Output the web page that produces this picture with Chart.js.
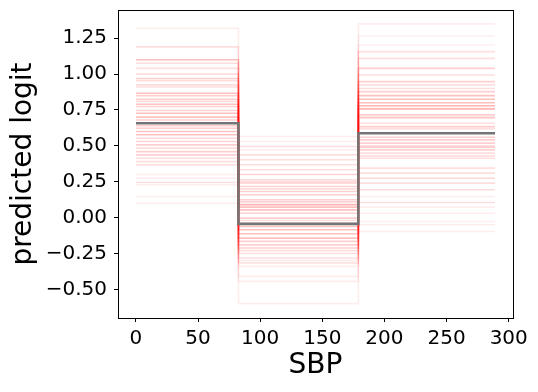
<!DOCTYPE html>
<html>
<head>
<meta charset="utf-8">
<script src="https://cdn.jsdelivr.net/npm/chart.js@4"></script>
<style>
  body { margin: 0; background: #fff; }
</style>
</head>
<body>
<canvas id="chart" width="538" height="392"></canvas>
<script>
// bin edges along SBP where the step function changes
const binEdges = [0, 82.5, 179, 289];

// main fit: one level per bin
const mainLevels = [0.658, -0.044, 0.588];

// bootstrap fits, level in each bin (same index = same sample)
const bin1Levels = [
    1.32, 1.19, 1.19, 1.10, 1.10, 1.10, 1.10, 1.076, 1.076, 1.04,
    1.04, 1.0, 1.0, 0.97, 0.97, 0.97, 0.955, 0.955, 0.925, 0.925,
    0.91, 0.91, 0.867, 0.867, 0.867, 0.867, 0.85, 0.85, 0.85, 0.825,
    0.825, 0.825, 0.81, 0.81, 0.79, 0.79, 0.79, 0.79, 0.774, 0.774,
    0.774, 0.746, 0.746, 0.746, 0.727, 0.727, 0.727, 0.727, 0.70, 0.70,
    0.70, 0.70, 0.68, 0.68, 0.68, 0.66, 0.66, 0.64, 0.64, 0.64,
    0.623, 0.623, 0.623, 0.60, 0.60, 0.60, 0.60, 0.577, 0.577, 0.577,
    0.577, 0.554, 0.554, 0.53, 0.53, 0.53, 0.507, 0.507, 0.507, 0.484,
    0.484, 0.46, 0.46, 0.46, 0.437, 0.437, 0.437, 0.414, 0.414, 0.39,
    0.39, 0.368, 0.368, 0.30, 0.275, 0.245, 0.245, 0.229, 0.147, 0.10];
const bin2Levels = [
    0.565, 0.53, 0.495, 0.495, 0.472, 0.437, 0.437, 0.403, 0.403, 0.368,
    0.368, 0.333, 0.333, 0.30, 0.30, 0.30, 0.263, 0.263, 0.25, 0.25,
    0.24, 0.24, 0.217, 0.217, 0.217, 0.20, 0.20, 0.182, 0.182, 0.182,
    0.159, 0.159, 0.159, 0.124, 0.124, 0.124, 0.11, 0.11, 0.11, 0.09,
    0.09, 0.09, 0.09, 0.09, 0.073, 0.073, 0.073, 0.073, 0.054, 0.054,
    0.054, 0.054, 0.03, 0.03, 0.03, -0.004, -0.004, -0.004, -0.02, -0.02,
    -0.04, -0.04, -0.062, -0.062, -0.062, -0.062, -0.085, -0.085, -0.085, -0.085,
    -0.113, -0.113, -0.113, -0.113, -0.143, -0.143, -0.143, -0.143, -0.166, -0.166,
    -0.166, -0.19, -0.19, -0.19, -0.212, -0.212, -0.212, -0.23, -0.23, -0.25,
    -0.25, -0.282, -0.282, -0.30, -0.317, -0.317, -0.34, -0.41, -0.445, -0.60];
const bin3Levels = [
    1.35, 1.266, 1.203, 1.157, 1.157, 1.11, 1.11, 1.04, 1.04, 1.04,
    0.994, 0.994, 0.948, 0.948, 0.948, 0.925, 0.925, 0.90, 0.90, 0.878,
    0.878, 0.878, 0.85, 0.85, 0.85, 0.85, 0.825, 0.825, 0.825, 0.825,
    0.80, 0.80, 0.80, 0.80, 0.78, 0.78, 0.78, 0.78, 0.78, 0.76,
    0.76, 0.76, 0.755, 0.755, 0.755, 0.716, 0.716, 0.716, 0.70, 0.70,
    0.693, 0.693, 0.658, 0.658, 0.634, 0.634, 0.634, 0.62, 0.62, 0.56,
    0.56, 0.56, 0.542, 0.542, 0.542, 0.519, 0.519, 0.519, 0.50, 0.50,
    0.49, 0.49, 0.49, 0.472, 0.472, 0.472, 0.449, 0.449, 0.43, 0.43,
    0.414, 0.414, 0.345, 0.345, 0.31, 0.31, 0.275, 0.275, 0.24, 0.24,
    0.194, 0.194, 0.147, 0.105, 0.105, 0.073, 0.03, -0.027, -0.05, -0.097];

const xTicks = [0, 50, 100, 150, 200, 250, 300];
const yTicks = [-0.5, -0.25, 0, 0.25, 0.5, 0.75, 1.0, 1.25];

function stepPoints(levels) {
    // repeat the last level so the final bin runs to the last edge
    const ys = levels.concat([levels[levels.length - 1]]);
    return binEdges.map((x, i) => ({x: x, y: ys[i]}));
}

const datasets = [{
    data: stepPoints(mainLevels),
    borderColor: '#747474',
    borderWidth: 2.6,
    stepped: true,
    pointRadius: 0,
    order: 0
}];

const nSamples = Math.min(bin1Levels.length, bin2Levels.length, bin3Levels.length);
for (let i = 0; i < nSamples; i++) {
    datasets.push({
        data: stepPoints([bin1Levels[i], bin2Levels[i], bin3Levels[i]]),
        borderColor: 'rgba(255, 0, 0, 0.07)',
        borderWidth: 1.6,
        stepped: true,
        pointRadius: 0,
        order: 1
    });
}

const frame = {
    id: 'frame',
    afterDatasetsDraw(chart) {
        const a = chart.chartArea;
        const ctx = chart.ctx;
        ctx.save();
        ctx.strokeStyle = '#000';
        ctx.lineWidth = 1;
        ctx.strokeRect(Math.round(a.left) + 0.5, Math.round(a.top) + 0.5,
            Math.round(a.right - a.left), Math.round(a.bottom - a.top));
        ctx.restore();
    }
};

const fmt = v => v.toFixed(2).replace('-', '\u2212');

Chart.defaults.font.family = 'DejaVu Sans';
Chart.defaults.color = '#000';

new Chart(document.getElementById('chart'), {
    type: 'line',
    data: {datasets: datasets},
    options: {
        responsive: false,
        animation: false,
        devicePixelRatio: 1,
        layout: {padding: {left: 0, right: 25, top: 10, bottom: 0}},
        plugins: {legend: {display: false}, tooltip: {enabled: false}},
        scales: {
            x: {
                type: 'linear',
                min: -14.45,
                max: 303.45,
                afterFit: s => { s.height = 74; s.paddingLeft = 0; s.paddingRight = 0; },
                afterBuildTicks: s => { s.ticks = xTicks.map(v => ({value: v})); },
                ticks: {font: {size: 20}, padding: 5, maxRotation: 0, callback: v => String(v)},
                grid: {drawOnChartArea: false, drawTicks: true, tickLength: 4, color: '#000'},
                border: {display: false},
                title: {display: true, text: 'SBP', font: {size: 28}, padding: {top: 0, bottom: 9}}
            },
            y: {
                min: -0.70,
                max: 1.447,
                afterFit: s => { s.width = 118; s.paddingTop = 0; s.paddingBottom = 0; },
                afterBuildTicks: s => { s.ticks = yTicks.map(v => ({value: v})); },
                ticks: {font: {size: 20}, padding: 7, callback: v => fmt(v)},
                grid: {drawOnChartArea: false, drawTicks: true, tickLength: 4, color: '#000'},
                border: {display: false},
                title: {display: true, text: 'predicted logit', font: {size: 28}, padding: {top: 7, bottom: 0}}
            }
        }
    },
    plugins: [frame]
});
</script>
</body>
</html>
